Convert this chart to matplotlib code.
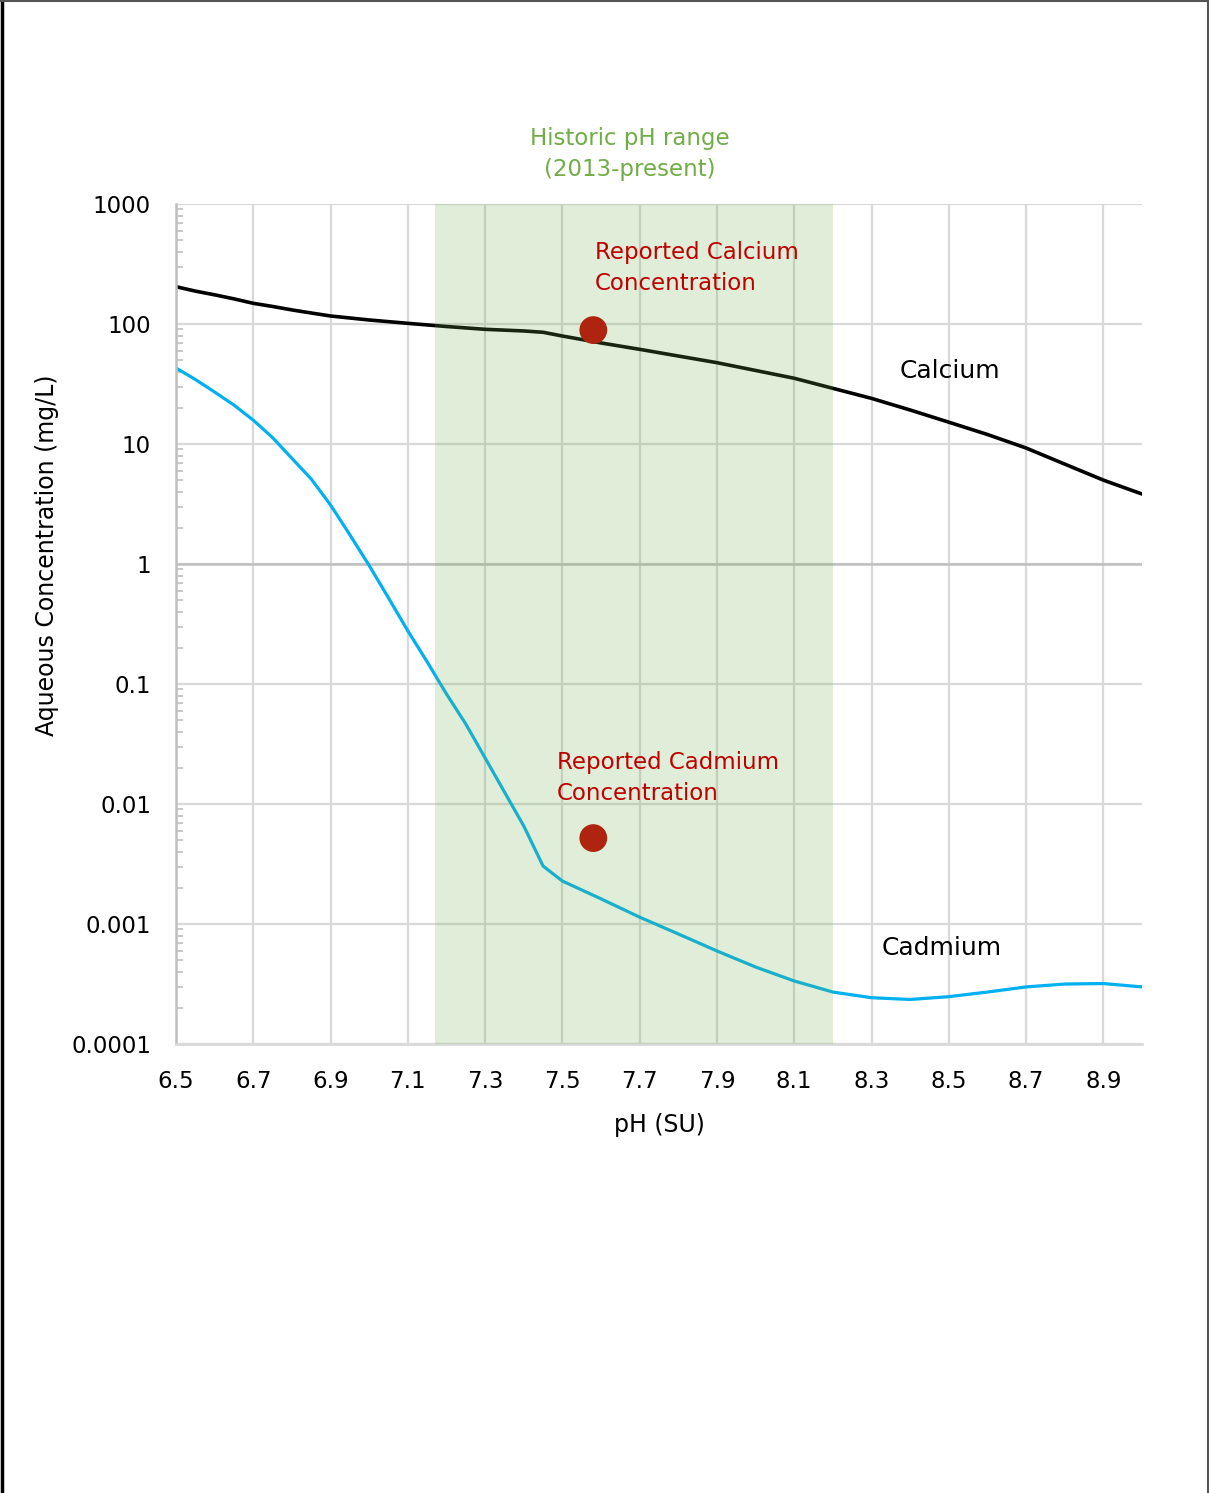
import matplotlib
matplotlib.use('Agg')
import matplotlib.pyplot as plt
from matplotlib.lines import Line2D
from matplotlib.ticker import FixedLocator, LogLocator, NullFormatter

plt.rcParams['font.family'] = ['DejaVu Sans']

# data
ca_ph = [6.5, 6.55, 6.6, 6.65, 6.7, 6.75, 6.8, 6.85, 6.9, 7.0, 7.1, 7.2, 7.3, 7.4, 7.45, 7.5,
         7.6, 7.7, 7.8, 7.9, 8.0, 8.1, 8.2, 8.3, 8.4, 8.5, 8.6, 8.7, 8.8, 8.9, 9.0]
calcium = [204.6, 188, 175, 162, 148.7, 140, 131, 123.5, 116.6, 108, 101.3, 95.3, 90.3, 87.5,
           85.3, 79.4, 69.5, 61.5, 54.1, 47.6, 41.0, 35.3, 29.1, 24.0, 19.2, 15.2, 12.0, 9.26,
           6.8, 5.0, 3.83]

cd_ph = [6.5, 6.55, 6.6, 6.65, 6.7, 6.75, 6.8, 6.85, 6.9, 6.95, 7.0, 7.05, 7.1, 7.15, 7.2,
         7.25, 7.3, 7.35, 7.4, 7.45, 7.5, 7.6, 7.7, 7.8, 7.9, 8.0, 8.1, 8.2, 8.3, 8.4, 8.5,
         8.6, 8.7, 8.8, 8.9, 9.0]
cadmium = [43.0, 34.5, 27.1, 21.1, 15.8, 11.3, 7.59, 5.11, 3.10, 1.75, 0.97, 0.521, 0.277,
           0.153, 0.0826, 0.0464, 0.0242, 0.0126, 0.00656, 0.00304, 0.00228, 0.00162, 0.00114,
           0.000826, 0.000596, 0.000438, 0.000335, 0.000271, 0.000243, 0.000235, 0.000248,
           0.000271, 0.000299, 0.000316, 0.000319, 0.000299]

reported_ph = [7.58, 7.58]
reported_conc = [89, 0.0052]

historic_range = (7.17, 8.2)

x_ticks = [6.5, 6.7, 6.9, 7.1, 7.3, 7.5, 7.7, 7.9, 8.1, 8.3, 8.5, 8.7, 8.9]
y_ticks = [1e-4, 1e-3, 1e-2, 1e-1, 1, 10, 100, 1000]
y_labels = ['0.0001', '0.001', '0.01', '0.1', '1', '10', '100', '1000']

fig = plt.figure(figsize=(12.09, 14.93), dpi=100)
ax = fig.add_axes([176 / 1209, 1 - 1044 / 1493, (1142 - 176) / 1209, (1044 - 204) / 1493])

ax.set_yscale('log')
ax.set_xlim(6.5, 9.0)
ax.set_ylim(1e-4, 1000)

ax.set_axisbelow(True)
ax.grid(True, which='major', color='#D9D9D9', linewidth=1.6)
ax.axhline(1, color='#BFBFBF', linewidth=1.8, zorder=1.5)

ax.plot(ca_ph, calcium, color='black', linewidth=2.6, zorder=2)
ax.plot(cd_ph, cadmium, color='#00B0F0', linewidth=2.3, zorder=2)
ax.scatter(reported_ph, reported_conc, s=400, color='#C00000', edgecolors='none', zorder=3)

# translucent historic range band sits over lines and grid
ax.axvspan(historic_range[0], historic_range[1], color='#70AD47', alpha=0.21,
           linewidth=0, zorder=4)

ax.xaxis.set_major_locator(FixedLocator(x_ticks))
ax.set_xticklabels([f'{t:.1f}' for t in x_ticks])
ax.yaxis.set_major_locator(FixedLocator(y_ticks))
ax.set_yticklabels(y_labels)
ax.yaxis.set_minor_locator(LogLocator(base=10, subs=range(2, 10), numticks=20))
ax.yaxis.set_minor_formatter(NullFormatter())

ax.tick_params(axis='x', length=0, pad=19, labelsize=16.5)
ax.tick_params(axis='y', which='major', length=0, pad=18, labelsize=16.5)
ax.tick_params(axis='y', which='minor', direction='in', length=5, width=1.2, color='#BFBFBF')

for side in ['top', 'right']:
    ax.spines[side].set_visible(False)
ax.spines['left'].set_color('#BFBFBF')
ax.spines['left'].set_linewidth(1.8)
ax.spines['bottom'].set_color('#D9D9D9')
ax.spines['bottom'].set_linewidth(2)

ax.set_xlabel('pH (SU)', fontsize=17, labelpad=14)
ax.set_ylabel('Aqueous Concentration (mg/L)', fontsize=17, va='center')
ax.yaxis.set_label_coords((47 - 176) / 966, 1 - (555 - 204) / 840)

ax.text(7.584, 293, 'Reported Calcium\nConcentration', color='#C00000', fontsize=16.5,
        ha='left', va='center', linespacing=1.45, zorder=6)
ax.text(7.485, 0.0165, 'Reported Cadmium\nConcentration', color='#C00000', fontsize=16.5,
        ha='left', va='center', linespacing=1.45, zorder=6)
ax.text(8.372, 40.6, 'Calcium', color='black', fontsize=18, ha='left', va='center', zorder=6)
ax.text(8.326, 0.00063, 'Cadmium', color='black', fontsize=18, ha='left', va='center', zorder=6)
ax.text(7.674, 2610, 'Historic pH range\n(2013-present)', color='#70AD47', fontsize=16.5,
        ha='center', va='center', linespacing=1.45, clip_on=False, zorder=6)

# frame around the picture
fig.add_artist(Line2D([0.0015, 0.0015], [0, 1], color='black', linewidth=2.5))
fig.add_artist(Line2D([0, 1], [0.9993, 0.9993], color='#555555', linewidth=1.5))
fig.add_artist(Line2D([0.9988, 0.9988], [0, 1], color='#555555', linewidth=1.5))

fig.savefig('out.png', dpi=100)
